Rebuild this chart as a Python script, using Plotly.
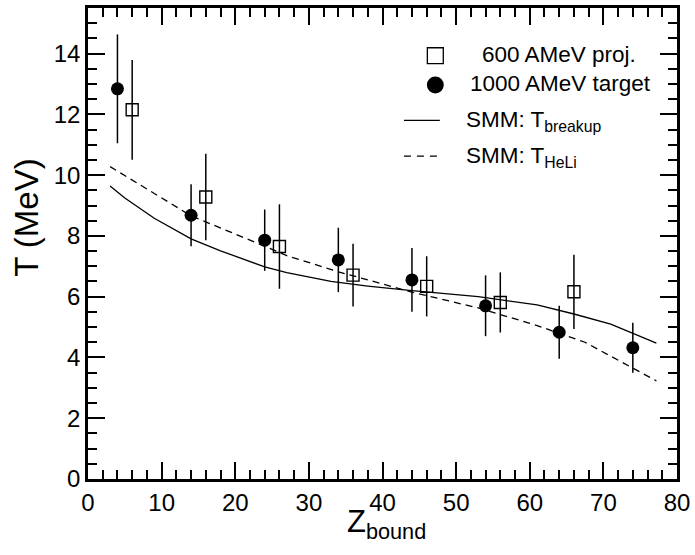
import plotly.graph_objects as go

# ---- data ----
z_target = [4, 14, 24, 34, 44, 54, 64, 74]
t_target = [12.84, 8.68, 7.86, 7.21, 6.55, 5.70, 4.83, 4.32]
e_target = [1.79, 1.02, 1.01, 1.06, 1.05, 1.00, 0.87, 0.82]

z_proj = [6, 16, 26, 36, 46, 56, 66]
t_proj = [12.15, 9.28, 7.65, 6.71, 6.34, 5.81, 6.16]
e_proj = [1.64, 1.42, 1.39, 1.03, 0.99, 0.99, 1.22]

z_breakup = [3, 5, 9, 14, 18, 24, 27, 33, 38, 44, 53, 61, 66, 71, 77.2]
t_breakup = [9.64, 9.25, 8.58, 7.90, 7.51, 6.98, 6.79, 6.50, 6.35, 6.20, 6.00, 5.73, 5.43, 5.10, 4.47]

z_heli = [3, 14, 24, 27, 34, 44, 53, 61, 67.5, 77.2]
t_heli = [10.28, 8.66, 7.66, 7.35, 6.82, 6.15, 5.63, 5.05, 4.50, 3.23]

x_ticks = [0, 10, 20, 30, 40, 50, 60, 70, 80]
y_ticks = [0, 2, 4, 6, 8, 10, 12, 14]

FONT = "Liberation Sans, Arial, sans-serif"

fig = go.Figure()
fig.add_trace(go.Scatter(x=z_breakup, y=t_breakup, mode="lines",
                         line=dict(color="black", width=1.3), showlegend=False))
fig.add_trace(go.Scatter(x=z_heli, y=t_heli, mode="lines",
                         line=dict(color="black", width=1.3, dash="7px,5px"), showlegend=False))
fig.add_trace(go.Scatter(x=z_proj, y=t_proj, mode="markers",
                         marker=dict(symbol="square-open", size=12, color="black",
                                     line=dict(width=1.4, color="black")),
                         error_y=dict(type="data", array=e_proj, color="black", thickness=1.5, width=0),
                         showlegend=False))
fig.add_trace(go.Scatter(x=z_target, y=t_target, mode="markers",
                         marker=dict(symbol="circle", size=13, color="black"),
                         error_y=dict(type="data", array=e_target, color="black", thickness=1.5, width=0),
                         showlegend=False))

W, H = 695, 555
L, R, T, B = 88, 16, 5, 76
pw, ph = W - L - R, H - T - B

def px(xp):
    return (xp - L) / pw

def py(yp):
    return (H - B - yp) / ph

shapes = []
annotations = []
# legend symbols
shapes.append(dict(type="rect", xref="paper", yref="paper",
                   x0=px(428.5), x1=px(444.5), y0=py(61), y1=py(45),
                   line=dict(color="black", width=1.3), fillcolor="white"))
shapes.append(dict(type="circle", xref="paper", yref="paper",
                   x0=px(428), x1=px(445), y0=py(91), y1=py(74),
                   line=dict(color="black", width=0), fillcolor="black"))
shapes.append(dict(type="line", xref="paper", yref="paper",
                   x0=px(405), x1=px(441), y0=py(118), y1=py(118),
                   line=dict(color="black", width=1.3)))
shapes.append(dict(type="line", xref="paper", yref="paper",
                   x0=px(405), x1=px(439), y0=py(154), y1=py(154),
                   line=dict(color="black", width=1.3, dash="7px,6px")))

leg_font = dict(family=FONT, size=22.5, color="black")
annotations.append(dict(xref="paper", yref="paper", x=px(561), y=py(52), text="600 AMeV proj.",
                        showarrow=False, xanchor="center", yanchor="middle", font=leg_font))
annotations.append(dict(xref="paper", yref="paper", x=px(562), y=py(81), text="1000 AMeV target",
                        showarrow=False, xanchor="center", yanchor="middle", font=leg_font))
annotations.append(dict(xref="paper", yref="paper", x=px(465), y=py(119), text="SMM: T<sub>breakup</sub>",
                        showarrow=False, xanchor="left", yanchor="middle", font=leg_font))
annotations.append(dict(xref="paper", yref="paper", x=px(465), y=py(155), text="SMM: T<sub>HeLi</sub>",
                        showarrow=False, xanchor="left", yanchor="middle", font=leg_font))

# axis titles
annotations.append(dict(xref="paper", yref="paper", x=px(26), y=py(216), text="T (MeV)",
                        showarrow=False, textangle=-90, xanchor="center", yanchor="middle",
                        font=dict(family=FONT, size=33, color="black")))
annotations.append(dict(xref="paper", yref="paper", x=px(388), y=py(524), text="Z<sub>bound</sub>",
                        showarrow=False, xanchor="center", yanchor="middle",
                        font=dict(family=FONT, size=31, color="black")))

axis_common = dict(showline=True, linecolor="black", linewidth=2.5, mirror="allticks",
                   ticks="inside", tickcolor="black", tickwidth=1.5, ticklen=17,
                   showgrid=False, zeroline=False,
                   tickfont=dict(family=FONT, size=24, color="black"))

fig.update_layout(
    width=W, height=H,
    margin=dict(l=L, r=R, t=T, b=B),
    paper_bgcolor="white", plot_bgcolor="white",
    showlegend=False,
    shapes=shapes, annotations=annotations,
    xaxis=dict(range=[0, 80], tickmode="array", tickvals=x_ticks, ticktext=[str(v) for v in x_ticks],
               minor=dict(dtick=2, ticks="inside", ticklen=9, tickwidth=1.5, tickcolor="black"),
               **axis_common),
    yaxis=dict(range=[0, 15.5], tickmode="array", tickvals=y_ticks, ticktext=[str(v) for v in y_ticks],
               minor=dict(dtick=0.5, ticks="inside", ticklen=9, tickwidth=1.5, tickcolor="black"),
               **axis_common),
)

fig.write_html("out.html", config={"displayModeBar": False},
               post_script="document.body.style.margin='0';document.body.style.overflow='hidden';")
